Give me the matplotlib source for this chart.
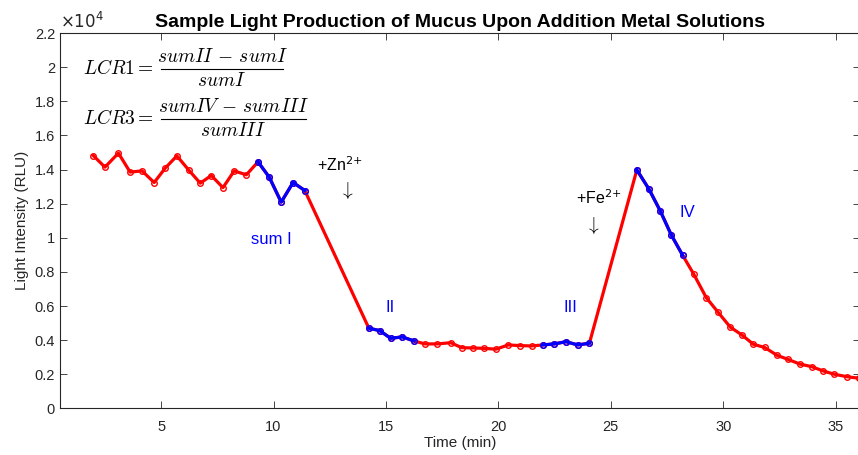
import numpy as np
import matplotlib
matplotlib.use("Agg")
import matplotlib.pyplot as plt
from matplotlib.lines import Line2D

plt.rcParams["font.family"] = ["Liberation Sans", "DejaVu Sans"]
plt.rcParams["mathtext.fontset"] = "cm"

# luminometer readings, one series with two metal additions in between
time_min = [
    1.98, 2.50, 3.10, 3.62, 4.15, 4.69, 5.18, 5.70, 6.22, 6.74,
    7.23, 7.75, 8.25, 8.79, 9.31, 9.81, 10.34, 10.87, 11.39,
    14.24, 14.72, 15.21, 15.73, 16.25, 16.74, 17.29, 17.88, 18.37, 18.89,
    19.37, 19.89, 20.44, 20.97, 21.48, 21.97, 22.49, 23.01, 23.53, 24.05,
    26.16, 26.70, 27.20, 27.69, 28.20, 28.69, 29.25, 29.77, 30.32, 30.84,
    31.34, 31.85, 32.40, 32.87, 33.41, 33.93, 34.46, 34.95, 35.50, 36.02,
]
intensity = [
    14820, 14140, 14960, 13850, 13920, 13240, 14080, 14800, 13980, 13200,
    13650, 12940, 13920, 13690, 14450, 13550, 12090, 13240, 12770,
    4700, 4560, 4110, 4190, 3950, 3780, 3780, 3850, 3560, 3540,
    3520, 3470, 3720, 3680, 3660, 3720, 3780, 3910, 3720, 3820,
    13980, 12850, 11580, 10170, 8970, 7870, 6490, 5640, 4760, 4300,
    3760, 3570, 3110, 2880, 2600, 2450, 2190, 2000, 1860, 1770,
]
# integration windows for sums I..IV
window_names = ["sum I", "II", "III", "IV"]
windows = [(9.3, 11.4), (14.2, 16.3), (21.9, 24.1), (26.1, 28.3)]
window_label_xy = [(9.9, 9900), (15.2, 5900), (23.2, 5900), (28.4, 11500)]

yticks = [0, 0.2, 0.4, 0.6, 0.8, 1, 1.2, 1.4, 1.6, 1.8, 2, 2.2]

W, H = 858, 455


def frac_text(fig, left, yc, lhs, num, den, bar_x0, bar_x1, size=14):
    # stacked fraction placed in pixel coordinates of the figure
    fx = lambda px: px / W
    fy = lambda py: 1 - py / H
    xc = (bar_x0 + bar_x1) / 2
    fig.text(fx(left), fy(yc), f"${lhs} =$", fontsize=size, va="center")
    fig.text(fx(xc), fy(yc - 12.5), f"${num}$", fontsize=size,
             ha="center", va="center")
    fig.text(fx(xc), fy(yc + 12.5), f"${den}$", fontsize=size,
             ha="center", va="center")
    fig.add_artist(Line2D([fx(bar_x0), fx(bar_x1)], [fy(yc), fy(yc)],
                          transform=fig.transFigure, color="black", lw=0.8))


t = np.array(time_min)
y = np.array(intensity)

fig = plt.figure(figsize=(W / 100, H / 100), dpi=100)
ax = fig.add_axes([0.0699, 0.1024, 0.932, 0.825])

ax.plot(t, y, "-o", color="red", lw=2.3, ms=4, mfc="none", mew=1.0, zorder=2)
for lo, hi in windows:
    m = (t >= lo) & (t <= hi)
    ax.plot(t[m], y[m], "-o", color="blue", lw=2.3, ms=4, mfc="none",
            mew=1.0, zorder=3)

for name, (lx, ly) in zip(window_names, window_label_xy):
    ax.text(lx, ly, name, color="blue", fontsize=12, ha="center", va="center")

ax.text(12.95, 14300, "+Zn$^{2{+}}$", fontsize=11.5, ha="center", va="center",
        math_fontfamily="dejavusans")
ax.text(13.25, 12750, r"$\downarrow$", fontsize=14, ha="center", va="center")
ax.text(24.45, 12350, "+Fe$^{2{+}}$", fontsize=11.5, ha="center", va="center",
        math_fontfamily="dejavusans")
ax.text(24.2, 10700, r"$\downarrow$", fontsize=14, ha="center", va="center")

frac_text(fig, 83, 69, "LCR1", r"sumII\,-\,sumI", "sumI", 161, 283)
frac_text(fig, 83, 119, "LCR3", r"sumIV\,-\,sumIII", "sumIII", 161, 306)

ax.set_xlim(0.5, 36.07)
ax.set_ylim(0, 22000)
ax.set_xticks([5, 10, 15, 20, 25, 30, 35])
ax.set_yticks([v * 1e4 for v in yticks])
ax.set_yticklabels([f"{v:g}" for v in yticks])
ax.text(0.0, 1.005, r"$\times10^4$", transform=ax.transAxes, fontsize=12,
        color="#262626", va="bottom", ha="left", math_fontfamily="dejavusans")

for s in ax.spines.values():
    s.set_color("#262626")
    s.set_linewidth(0.8)
ax.tick_params(direction="in", length=5, width=0.6, colors="#262626",
               labelsize=10.5, top=True, right=True)
ax.tick_params(axis="x", pad=8)

ax.set_xlabel("Time (min)", fontsize=11, color="#262626", labelpad=2)
ax.set_ylabel("Light Intensity (RLU)", fontsize=11, color="#262626", labelpad=4)
ax.set_title("Sample Light Production of Mucus Upon Addition Metal Solutions",
             fontsize=14, fontweight="bold", pad=4)

fig.savefig("out.png", dpi=100)
